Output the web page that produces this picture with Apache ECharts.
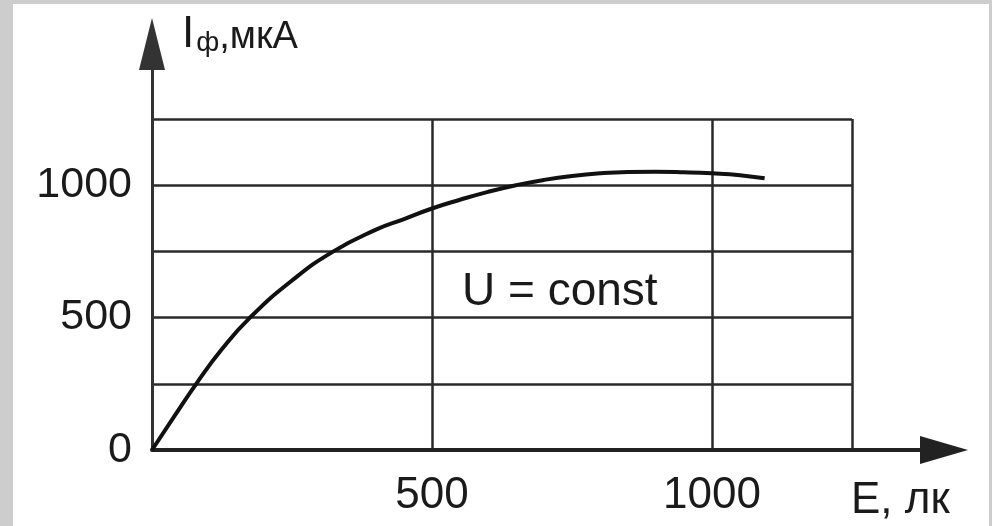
<!DOCTYPE html>
<html>
<head>
<meta charset="utf-8">
<script src="https://cdn.jsdelivr.net/npm/echarts@6/dist/echarts.min.js"></script>
<style>html,body{margin:0;padding:0;background:#fff}#c{width:992px;height:526px}</style>
</head>
<body>
<div id="c"></div>
<script>
// Data
var illuminance = [0, 40, 79, 125, 175, 250, 324, 400, 450, 500, 550, 600, 650, 700, 750, 800, 850, 900, 950, 1000, 1050, 1094];
var photocurrent = [0, 128, 250, 381, 500, 640, 750, 832, 872, 912, 945, 975, 1000, 1020, 1035, 1045, 1050, 1051, 1049, 1045, 1038, 1026];
var xTickLabels = [500, 1000];
var yTickLabels = [0, 500, 1000];
var xAxisName = 'E, лк';
var yAxisNameMain = 'I';
var yAxisNameSub = 'ф';
var yAxisNameUnit = ',мкА';
var annotation = 'U = const';

var points = illuminance.map(function (e, i) { return [e, photocurrent[i]]; });
var FONT = '"Liberation Sans", Arial, sans-serif';
var GRID_LINE = '#2a2a2a';

var chart = echarts.init(document.getElementById('c'), null, { renderer: 'canvas' });
chart.setOption({
  backgroundColor: '#cdcdcd',
  animation: false,
  graphic: [{
    type: 'rect', z: -10, silent: true,
    shape: { x: 13, y: 4, width: 976, height: 522 },
    style: { fill: '#ffffff' }
  }],
  title: [{
    left: 177, top: 8,
    text: '{i|' + yAxisNameMain + '}{s|' + yAxisNameSub + '}{u|' + yAxisNameUnit + '}',
    textStyle: {
      rich: {
        i: { fontFamily: FONT, fontSize: 44, fontWeight: 'normal', color: '#1a1a1a', verticalAlign: 'bottom' },
        s: { fontFamily: FONT, fontSize: 28, fontWeight: 'normal', color: '#1a1a1a', padding: [14, 0, 0, 2], verticalAlign: 'bottom' },
        u: { fontFamily: FONT, fontSize: 38, fontWeight: 'normal', color: '#1a1a1a', verticalAlign: 'bottom' }
      }
    }
  }, {
    left: 846, top: 474,
    text: xAxisName,
    textStyle: { fontFamily: FONT, fontSize: 44, fontWeight: 'normal', color: '#1a1a1a' }
  }, {
    left: 457, top: 264,
    text: annotation,
    textStyle: { fontFamily: FONT, fontSize: 46, fontWeight: 'normal', color: '#1a1a1a' }
  }],
  grid: [
    { left: 152, right: 140, top: 119, bottom: 76, containLabel: false },
    { left: 152, right: 48, top: 44, bottom: 76, containLabel: false }
  ],
  xAxis: [{
    type: 'value', gridIndex: 0, min: 0, max: 1250, interval: 250,
    axisLine: { show: false }, axisTick: { show: false },
    axisLabel: {
      margin: 24, fontFamily: FONT, fontSize: 44, color: '#1a1a1a',
      formatter: function (v) { return xTickLabels.indexOf(v) >= 0 ? String(v) : ''; }
    },
    splitLine: { show: true, lineStyle: { width: 2.5, color: ['transparent', 'transparent', GRID_LINE, 'transparent', GRID_LINE, GRID_LINE] } }
  }, {
    type: 'value', gridIndex: 1, min: 0, max: 1,
    axisLine: { show: true, symbol: ['none', 'triangle'], symbolSize: [28, 48], lineStyle: { color: '#222', width: 4 } },
    axisTick: { show: false }, axisLabel: { show: false }, splitLine: { show: false }
  }],
  yAxis: [{
    type: 'value', gridIndex: 0, min: 0, max: 1250, interval: 250,
    axisLine: { show: false }, axisTick: { show: false },
    axisLabel: {
      margin: 20, fontFamily: FONT, fontSize: 43, color: '#1a1a1a',
      formatter: function (v) { return yTickLabels.indexOf(v) >= 0 ? String(v) : ''; }
    },
    splitLine: { show: true, lineStyle: { width: 2.5, color: ['transparent', GRID_LINE, GRID_LINE, GRID_LINE, GRID_LINE, GRID_LINE] } }
  }, {
    type: 'value', gridIndex: 1, min: 0, max: 1,
    axisLine: { show: true, symbol: ['none', 'triangle'], symbolSize: [26, 52], lineStyle: { color: '#333', width: 3 } },
    axisTick: { show: false }, axisLabel: { show: false }, splitLine: { show: false }
  }],
  series: [{
    type: 'line', xAxisIndex: 0, yAxisIndex: 0,
    data: points, smooth: true, showSymbol: false,
    lineStyle: { color: '#111', width: 4 }
  }]
});
</script>
</body>
</html>
